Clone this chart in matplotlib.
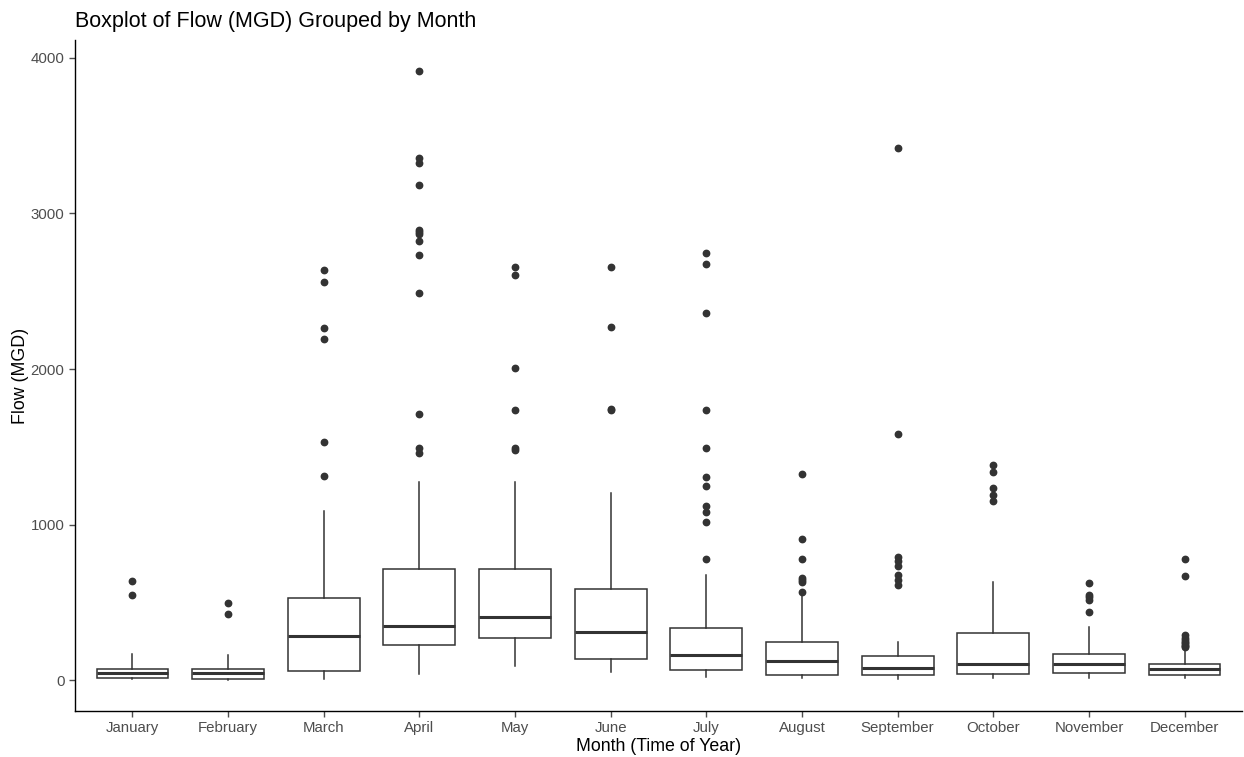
import matplotlib
matplotlib.use("Agg")
import matplotlib.pyplot as plt

plt.rcParams['font.family'] = ['Liberation Sans', 'DejaVu Sans']

months = ["January", "February", "March", "April", "May", "June",
          "July", "August", "September", "October", "November", "December"]

q1 = [17, 11, 60, 231, 270, 137, 66, 34, 34, 43, 49, 34]
med = [47, 45, 283, 347, 407, 313, 165, 126, 79, 103, 103, 71]
q3 = [75, 75, 529, 715, 715, 589, 340, 246, 160, 302, 171, 107]
whislo = [11, 0, 11, 43, 94, 56, 24, 15, 11, 17, 17, 17]
whishi = [171, 163, 1091, 1276, 1276, 1201, 676, 545, 248, 631, 342, 205]

fliers = [
    [636, 550],
    [496, 426],
    [1314, 1533, 2194, 2264, 2560, 2639],
    [1462, 1494, 1712, 2489, 2731, 2825, 2868, 2878, 2896, 3185, 3324, 3356, 3917],
    [1480, 1494, 1736, 2008, 2607, 2654],
    [1736, 1744, 2273, 2654],
    [783, 1016, 1081, 1119, 1252, 1308, 1494, 1736, 2358, 2677, 2748],
    [565, 631, 644, 659, 783, 910, 1329],
    [616, 644, 676, 734, 766, 794, 1586, 3418],
    [1151, 1194, 1237, 1338, 1385],
    [441, 516, 535, 548, 629],
    [214, 222, 230, 240, 250, 262, 275, 291, 668, 777],
]

stats = []
for i, m in enumerate(months):
    stats.append(dict(label=m, q1=q1[i], med=med[i], q3=q3[i],
                      whislo=whislo[i], whishi=whishi[i], fliers=fliers[i]))

W, H = 1244, 757
fig = plt.figure(figsize=(W / 100, H / 100), dpi=100)
ax = fig.add_axes([75 / W, (H - 711) / H, (1242 - 75) / W, (711 - 40) / H])

dark = "#333333"
ax.bxp(stats, positions=range(len(months)), widths=0.75, showcaps=False,
       patch_artist=True,
       boxprops=dict(facecolor="white", edgecolor=dark, linewidth=1.1),
       medianprops=dict(color=dark, linewidth=2.2),
       whiskerprops=dict(color=dark, linewidth=1.1),
       flierprops=dict(marker="o", markerfacecolor=dark, markeredgecolor=dark,
                       markersize=4.6, linestyle="none"))

ax.set_xlim(-0.6, len(months) - 0.4)
ax.set_ylim(-196, 4113)
ax.set_yticks([0, 1000, 2000, 3000, 4000])
ax.set_xticks(range(len(months)))
ax.set_xticklabels(months)

for s in ["top", "right"]:
    ax.spines[s].set_visible(False)
for s in ["left", "bottom"]:
    ax.spines[s].set_color("black")
    ax.spines[s].set_linewidth(1.0)

ax.tick_params(axis="both", colors="#4D4D4D", labelsize=10.8, length=4, width=1.0)
ax.tick_params(axis="both", labelcolor="#4D4D4D")

ax.set_xlabel("Month (Time of Year)", fontsize=12.8, color="black", labelpad=2)
ax.set_ylabel("Flow (MGD)", fontsize=12.8, color="black", labelpad=1)
ax.set_title("Boxplot of Flow (MGD) Grouped by Month", fontsize=15.5,
             loc="left", color="black", pad=9)

fig.savefig("out.png", dpi=100)
